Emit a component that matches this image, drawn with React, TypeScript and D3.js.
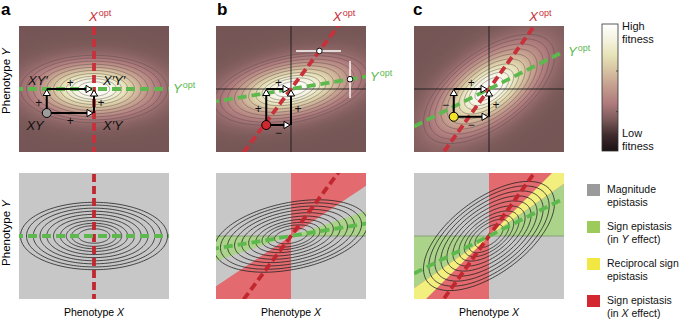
import React from 'react';
import * as d3 from 'd3';

// layout of the six landscape panels
const panelIds = ['a', 'b', 'c'];
const panelLeft = [19, 216, 414];
const rowTop = [26, 173];
const panelW = 150;
const panelH = 126;

// fitness landscape per panel: Q = a x^2 + 2 b x y + c y^2 (optimum at origin)
const quadA = [1, 1.045, 1.967];
const quadB = [0, -0.78, -1.415];
const quadC = [4.76, 4.7, 2.83];

// contour levels (Mahalanobis distance from the optimum)
const contourLevels = [0.21, 0.3, 0.37, 0.45, 0.54, 0.63, 0.72, 0.81, 0.9, 0.98];

// phenotype of the XY genotype in each panel
const startX = [-0.63, -0.33, -0.47];
const startY = [-0.32, -0.48, -0.37];
const startFill = ['#9d9d9d', '#d0282e', '#f3e12a'];

// genotype labels (panel a): XY', X'Y', XY, X'Y
const genotypeLabels = ['XY\u2032', 'X\u2032Y\u2032', 'XY', 'X\u2032Y'];

// white probe bars in panel b
const probeY = 0.507;
const probeXSpan = [0.067, 0.667];
const probeX = 0.787;
const probeYSpan = [-0.12, 0.373];

// fitness colour map, low -> high
const fitnessStops = ['#1b1113', '#402b2d', '#7d5b5b', '#af7b7d', '#c39b8d', '#d5c0a0', '#e6e2b7', '#f4f3df', '#ffffff'];
const fitnessWidth = 0.47;
const fitnessFloor = 0.235;
const colorbarTicks = [0.31, 0.63];

const legendColors = ['#9b9b9b', '#9dcb5b', '#f3e843', '#d3282f'];
const legendText = [
  ['Magnitude', 'epistasis'],
  ['Sign epistasis', '(in Y effect)'],
  ['Reciprocal sign', 'epistasis'],
  ['Sign epistasis', '(in X effect)'],
];
const regionGray = '#c7c7c7';
const regionGreen = '#acd38a';
const regionYellow = '#f3ef7e';
const regionRed = '#e36a6e';

const RED = '#c8303a';
const GREEN = '#5db84d';
const FONT = '"Liberation Sans", Arial, Helvetica, sans-serif';

const fitnessColor = d3
  .scaleLinear<string>()
  .domain(fitnessStops.map((_, j) => j / (fitnessStops.length - 1)))
  .range(fitnessStops)
  .interpolate(d3.interpolateRgb);

const quad = (i: number, x: number, y: number) =>
  quadA[i] * x * x + 2 * quadB[i] * x * y + quadC[i] * y * y;

type Pt = [number, number];

// italicise a lone X or Y inside a text line
const richText = (s: string) =>
  s.split(/(\b[XY]\b)/).map((part, j) =>
    part === 'X' || part === 'Y' ? (
      <tspan key={j} fontStyle="italic">{part}</tspan>
    ) : (
      <tspan key={j}>{part}</tspan>
    )
  );

const OptLabel = ({ x, y, letter }: { x: number; y: number; letter: string }) => (
  <text x={x} y={y} fill={letter === 'X' ? RED : GREEN} fontSize={13}>
    <tspan fontStyle="italic">{letter}</tspan>
    <tspan fontSize={9} dy={-5} dx={1}>opt</tspan>
  </text>
);

function arrowHead(tx: number, ty: number, dx: number, dy: number) {
  const L = 6;
  const Wd = 3.6;
  const bx = tx - dx * L;
  const by = ty - dy * L;
  return `${tx},${ty} ${bx - dy * Wd},${by + dx * Wd} ${bx + dy * Wd},${by - dx * Wd}`;
}

function Panel({ i, row }: { i: number; row: number }) {
  const left = panelLeft[i];
  const top = rowTop[row];
  const k = panelW / 2;
  const yh = panelH / 2 / k;
  const x = d3.scaleLinear().domain([-1, 1]).range([left, left + panelW]);
  const y = d3.scaleLinear().domain([-yh, yh]).range([top + panelH, top]);
  const a = quadA[i];
  const b = quadB[i];
  const c = quadC[i];
  const rr = Math.sqrt(c - (b * b) / a);
  const clipId = `clip-${i}-${row}`;
  const gradId = `fit-${i}`;

  const open = d3.line<Pt>().x(p => x(p[0])).y(p => y(p[1]));
  const closed = d3.line<Pt>().x(p => x(p[0])).y(p => y(p[1])).curve(d3.curveLinearClosed);
  const ellipse = (d: number): Pt[] =>
    d3.range(0, 2 * Math.PI, Math.PI / 72).map(t => [
      d * (Math.cos(t) / Math.sqrt(a) - (b * Math.sin(t)) / (a * rr)),
      (d * Math.sin(t)) / rr,
    ]);

  const xOpt: Pt[] = [-2, 2].map(v => [(-b * v) / a, v] as Pt);
  const yOpt: Pt[] = [-2, 2].map(u => [u, (-b * u) / c] as Pt);

  const dashes = (
    <g>
      <path d={open(xOpt) || ''} stroke={row === 0 ? RED : '#c0272f'} strokeWidth={3.8} strokeDasharray="8 4" fill="none" />
      <path d={open(yOpt) || ''} stroke={GREEN} strokeWidth={3.8} strokeDasharray="9 5" fill="none" />
    </g>
  );

  const body: React.ReactNode[] = [];
  if (row === 0) {
    const dMax = 2.5;
    body.push(
      <defs key="defs">
        <radialGradient
          id={gradId}
          gradientUnits="userSpaceOnUse"
          cx={0}
          cy={0}
          r={1}
          fx={0}
          fy={0}
          gradientTransform={`matrix(${(k * dMax) / Math.sqrt(a)},0,${(-k * dMax * b) / (a * rr)},${(-k * dMax) / rr},${x(0)},${y(0)})`}
        >
          {d3.range(0, 1.0001, 0.02).map(o => (
            <stop
              key={o}
              offset={o}
              stopColor={fitnessColor(
                fitnessFloor + (1 - fitnessFloor) * Math.exp(-((o * dMax) ** 2) / (2 * fitnessWidth ** 2))
              )}
            />
          ))}
        </radialGradient>
      </defs>
    );
    body.push(<rect key="bg" x={left} y={top} width={panelW} height={panelH} fill={`url(#${gradId})`} />);
    body.push(
      <g key="ct" fill="none" stroke="#5a4a4a" strokeOpacity={0.65} strokeWidth={0.7}>
        {contourLevels.map(d => (
          <path key={d} d={closed(ellipse(d)) || ''} />
        ))}
      </g>
    );
    if (b !== 0) {
      body.push(
        <g key="cross" stroke="#1a1a1a" strokeWidth={0.9}>
          <line x1={x(-1)} x2={x(1)} y1={y(0)} y2={y(0)} />
          <line x1={x(0)} x2={x(0)} y1={y(-yh)} y2={y(yh)} />
        </g>
      );
    }
    body.push(<g key="dash">{dashes}</g>);
  } else {
    const wedge = (t1: number, t2: number): Pt[] => {
      const R = 5;
      return [[0, 0] as Pt].concat(
        d3.range(0, 1.0001, 0.25).map(f => {
          const t = t1 + (t2 - t1) * f;
          return [R * Math.cos(t), R * Math.sin(t)] as Pt;
        })
      );
    };
    const tR = Math.atan2(1, (-2 * b) / a);
    const tG = Math.atan2((-2 * b) / c, 1);
    const P = Math.PI;
    body.push(<rect key="bg" x={left} y={top} width={panelW} height={panelH} fill={regionGray} />);
    if (b !== 0) {
      body.push(
        <g key="regions">
          <path d={closed(wedge(0, tG)) || ''} fill={regionGreen} />
          <path d={closed(wedge(P, P + tG)) || ''} fill={regionGreen} />
          <path d={closed(wedge(tR, P / 2)) || ''} fill={regionRed} />
          <path d={closed(wedge(P + tR, 1.5 * P)) || ''} fill={regionRed} />
          {tG > tR && <path d={closed(wedge(tR, tG)) || ''} fill={regionYellow} />}
          {tG > tR && <path d={closed(wedge(P + tR, P + tG)) || ''} fill={regionYellow} />}
          <line x1={x(-1)} x2={x(1)} y1={y(0)} y2={y(0)} stroke="#7f9770" strokeWidth={0.8} />
        </g>
      );
    }
    body.push(
      <g key="ct" fill="none" stroke="#222" strokeWidth={0.8}>
        {contourLevels.map(d => (
          <path key={d} d={closed(ellipse(d)) || ''} />
        ))}
      </g>
    );
    body.push(<g key="dash">{dashes}</g>);
  }

  // arrows, signs, probes (top row only)
  const overlay: React.ReactNode[] = [];
  if (row === 0) {
    const gx = startX[i];
    const gy = startY[i];
    const p0: Pt = [x(gx), y(gy)];
    const p1: Pt = [x(0), y(gy)];
    const p2: Pt = [x(gx), y(0)];
    const p3: Pt = [x(0), y(0)];
    const arrows: [Pt, Pt, number, number][] = [
      [p0, [p1[0] - 1, p1[1]], 1, 0],
      [p0, [p2[0], p2[1] + 0.5], 0, -1],
      [p2, [p3[0] - 2, p3[1]], 1, 0],
      [p1, [p3[0], p3[1] + 1], 0, -1],
    ];
    const sign = (better: boolean) => (better ? '+' : '\u2212');
    const signs: [string, number, number][] = [
      [sign(quad(i, 0, 0) < quad(i, gx, 0)), (p2[0] + p3[0]) / 2, p3[1] - 6],
      [sign(quad(i, 0, gy) < quad(i, gx, gy)), (p0[0] + p1[0]) / 2, p0[1] + 8],
      [sign(quad(i, gx, 0) < quad(i, gx, gy)), p0[0] - 8, (p0[1] + p2[1]) / 2 + 2],
      [sign(quad(i, 0, 0) < quad(i, 0, gy)), p1[0] + 7, (p1[1] + p3[1]) / 2 + 2],
    ];
    if (i === 1) {
      const cx1 = (-b * probeY) / a;
      const cy2 = (-b * probeX) / c;
      overlay.push(
        <g key="probe">
          <line x1={x(probeXSpan[0])} x2={x(probeXSpan[1])} y1={y(probeY)} y2={y(probeY)} stroke="#fff" strokeWidth={1.4} />
          <line x1={x(probeX)} x2={x(probeX)} y1={y(probeYSpan[0])} y2={y(probeYSpan[1])} stroke="#fff" strokeWidth={1.4} />
          <circle cx={x(cx1)} cy={y(probeY)} r={2.8} fill="#fff" stroke="#111" strokeWidth={1} />
          <circle cx={x(probeX)} cy={y(cy2)} r={2.8} fill="#fff" stroke="#111" strokeWidth={1} />
        </g>
      );
    }
    overlay.push(
      <g key="arrows">
        {arrows.map(([s, t, dx, dy], j) => (
          <g key={j}>
            <line x1={s[0]} y1={s[1]} x2={t[0] - dx * 5} y2={t[1] - dy * 5} stroke="#000" strokeWidth={2} />
            <polygon points={arrowHead(t[0], t[1], dx, dy)} fill="#fff" stroke="#000" strokeWidth={1} strokeLinejoin="round" />
          </g>
        ))}
        <circle cx={p0[0]} cy={p0[1]} r={4.5} fill={startFill[i]} stroke="#000" strokeWidth={1} />
        {signs.map(([s, sx, sy], j) => (
          <text key={j} x={sx} y={sy} fontSize={12} textAnchor="middle" dominantBaseline="central" fill="#111">
            {s}
          </text>
        ))}
      </g>
    );
    if (i === 0) {
      overlay.push(
        <g key="geno" fontSize={13} fontStyle="italic" fill="#111">
          <text x={p2[0] + 1} y={p2[1] - 4} textAnchor="end">{genotypeLabels[0]}</text>
          <text x={p3[0] + 9} y={p3[1] - 4}>{genotypeLabels[1]}</text>
          <text x={p0[0] - 3} y={p0[1] + 17} textAnchor="end">{genotypeLabels[2]}</text>
          <text x={p1[0] + 9} y={p1[1] + 17}>{genotypeLabels[3]}</text>
        </g>
      );
    }
  }

  return (
    <g>
      <clipPath id={clipId}>
        <rect x={left} y={top} width={panelW} height={panelH} />
      </clipPath>
      <g clipPath={`url(#${clipId})`}>{body}</g>
      {overlay}
      {row === 0 && <OptLabel x={x((-b * yh) / a) - 5} y={21} letter="X" />}
      {row === 0 && <OptLabel x={x(1) + 4} y={y((-b * 1) / c) + 4} letter="Y" />}
    </g>
  );
}

export default function App() {
  const cbY = d3.scaleLinear().domain([0, 1]).range([151, 24]);
  return (
    <svg
      width={685}
      height={320}
      viewBox="0 0 685 320"
      style={{ position: 'absolute', left: 0, top: 0, background: '#fff' }}
      fontFamily={FONT}
    >
      <defs>
        <linearGradient id="cbar" x1={0} y1={1} x2={0} y2={0}>
          {fitnessStops.map((col, j) => (
            <stop key={j} offset={j / (fitnessStops.length - 1)} stopColor={col} />
          ))}
        </linearGradient>
      </defs>

      {panelIds.map((id, i) => (
        <g key={id}>
          <Panel i={i} row={0} />
          <Panel i={i} row={1} />
          <text x={panelLeft[i] - (i === 0 ? 18 : i === 1 ? -1 : 1)} y={15} fontSize={17} fontWeight="bold">
            {id}
          </text>
          <text x={panelLeft[i] + panelW / 2} y={316} fontSize={10.5} textAnchor="middle">
            {richText('Phenotype X')}
          </text>
        </g>
      ))}

      {[81, 233].map(cy => (
        <text key={cy} transform={`translate(10,${cy}) rotate(-90)`} fontSize={11.5} textAnchor="middle">
          {richText('Phenotype Y')}
        </text>
      ))}

      {/* colour bar */}
      <rect x={602} y={cbY(1)} width={16} height={cbY(0) - cbY(1)} fill="url(#cbar)" stroke="#333" strokeWidth={0.8} />
      {colorbarTicks.map(t => (
        <line key={t} x1={616} x2={618} y1={cbY(t)} y2={cbY(t)} stroke="#333" strokeWidth={0.8} />
      ))}
      <g fontSize={11} fill="#111">
        <text x={622} y={30}>High</text>
        <text x={622} y={43}>fitness</text>
        <text x={622} y={137}>Low</text>
        <text x={622} y={150}>fitness</text>
      </g>

      {/* legend */}
      {legendColors.map((col, j) => (
        <g key={col}>
          <rect x={587} y={184 + 37 * j} width={13} height={12} fill={col} />
          <text x={607} y={193 + 37 * j} fontSize={10.5} fill="#111">{richText(legendText[j][0])}</text>
          <text x={607} y={206 + 37 * j} fontSize={10.5} fill="#111">{richText(legendText[j][1])}</text>
        </g>
      ))}
    </svg>
  );
}
